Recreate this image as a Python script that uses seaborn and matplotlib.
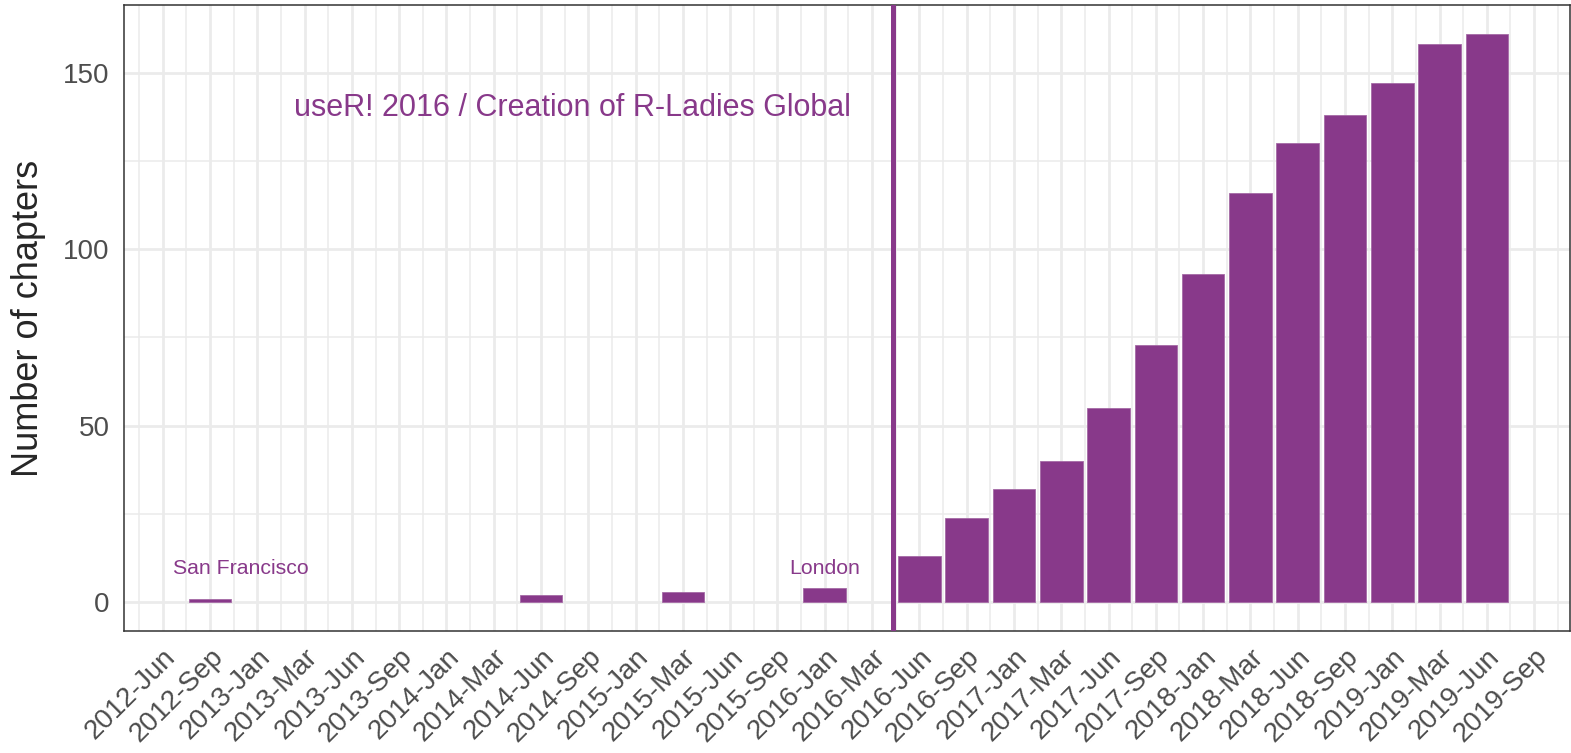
# R-Ladies chapters over time
import numpy as np
import pandas as pd
import matplotlib.pyplot as plt
import seaborn as sns

# tick labels on the x axis (one slot per label)
months = ["2012-Jun", "2012-Sep", "2013-Jan", "2013-Mar", "2013-Jun", "2013-Sep",
          "2014-Jan", "2014-Mar", "2014-Jun", "2014-Sep", "2015-Jan", "2015-Mar",
          "2015-Jun", "2015-Sep", "2016-Jan", "2016-Mar", "2016-Jun", "2016-Sep",
          "2017-Jan", "2017-Mar", "2017-Jun", "2017-Sep", "2018-Jan", "2018-Mar",
          "2018-Jun", "2018-Sep", "2019-Jan", "2019-Mar", "2019-Jun", "2019-Sep"]

# months that have a bar, and the number of chapters
bar_months = ["2012-Sep", "2014-Jun", "2015-Mar", "2016-Jan", "2016-Jun", "2016-Sep",
              "2017-Jan", "2017-Mar", "2017-Jun", "2017-Sep", "2018-Jan", "2018-Mar",
              "2018-Jun", "2018-Sep", "2019-Jan", "2019-Mar", "2019-Jun"]
chapters = [1, 2, 3, 4, 13, 24, 32, 40, 55, 73, 93, 116, 130, 138, 147, 158, 161]

# annotations
event_label = "useR! 2016 / Creation of R-Ladies Global"
city_labels = ["San Francisco", "London"]
city_months = ["2012-Sep", "2016-Jan"]

purple = "#88398A"

sns.set_style("white")
plt.rcParams['font.family'] = ['Liberation Sans', 'DejaVu Sans']

df = pd.DataFrame({"month": bar_months, "chapters": chapters})

fig, ax = plt.subplots(figsize=(15.71, 7.53), dpi=100)
fig.subplots_adjust(left=0.0789, right=0.9994, top=0.9928, bottom=0.1624)

sns.barplot(data=df, x="month", y="chapters", order=months, color=purple,
            saturation=1, width=0.9, edgecolor="#a56aa6", linewidth=0.6,
            ax=ax, zorder=3)

# vertical line between 2016-Mar and 2016-Jun
ax.axvline(months.index("2016-Mar") + 0.44, color=purple, lw=3.6, zorder=4)

ax.text(8.66, 140, event_label, color=purple, fontsize=22,
        ha="center", va="center", zorder=5)
ax.text(months.index(city_months[0]) + 0.65, 9.5, city_labels[0], color=purple,
        fontsize=15.3, ha="center", va="center", zorder=5)
ax.text(months.index(city_months[1]), 9.5, city_labels[1], color=purple,
        fontsize=15.3, ha="center", va="center", zorder=5)

ax.set_xlim(-0.82, 29.76)
ax.set_ylim(-8.05, 169.05)

ax.set_yticks([0, 50, 100, 150])
ax.set_yticks([25, 75, 125], minor=True)
ax.set_xticks(np.arange(-0.5, len(months), 1), minor=True)

ax.set_axisbelow(True)
ax.grid(which="major", color="#EBEBEB", lw=1.95)
ax.grid(which="minor", color="#EBEBEB", lw=1.1)

ax.set_xlabel("")
ax.set_ylabel("Number of chapters", fontsize=26, labelpad=12)

ax.tick_params(which="major", direction="out", length=6.5, width=1.1,
               color="#333333", labelcolor="#4D4D4D", labelsize=20)
ax.tick_params(axis="x", pad=3)
ax.tick_params(axis="y", pad=4)
ax.tick_params(which="minor", length=0)
plt.setp(ax.get_xticklabels(), rotation=45, ha="right", va="top",
         rotation_mode="anchor")

for s in ax.spines.values():
    s.set_color("#333333")
    s.set_linewidth(1.1)
    s.set_visible(True)

fig.savefig("out.png", dpi=100)
